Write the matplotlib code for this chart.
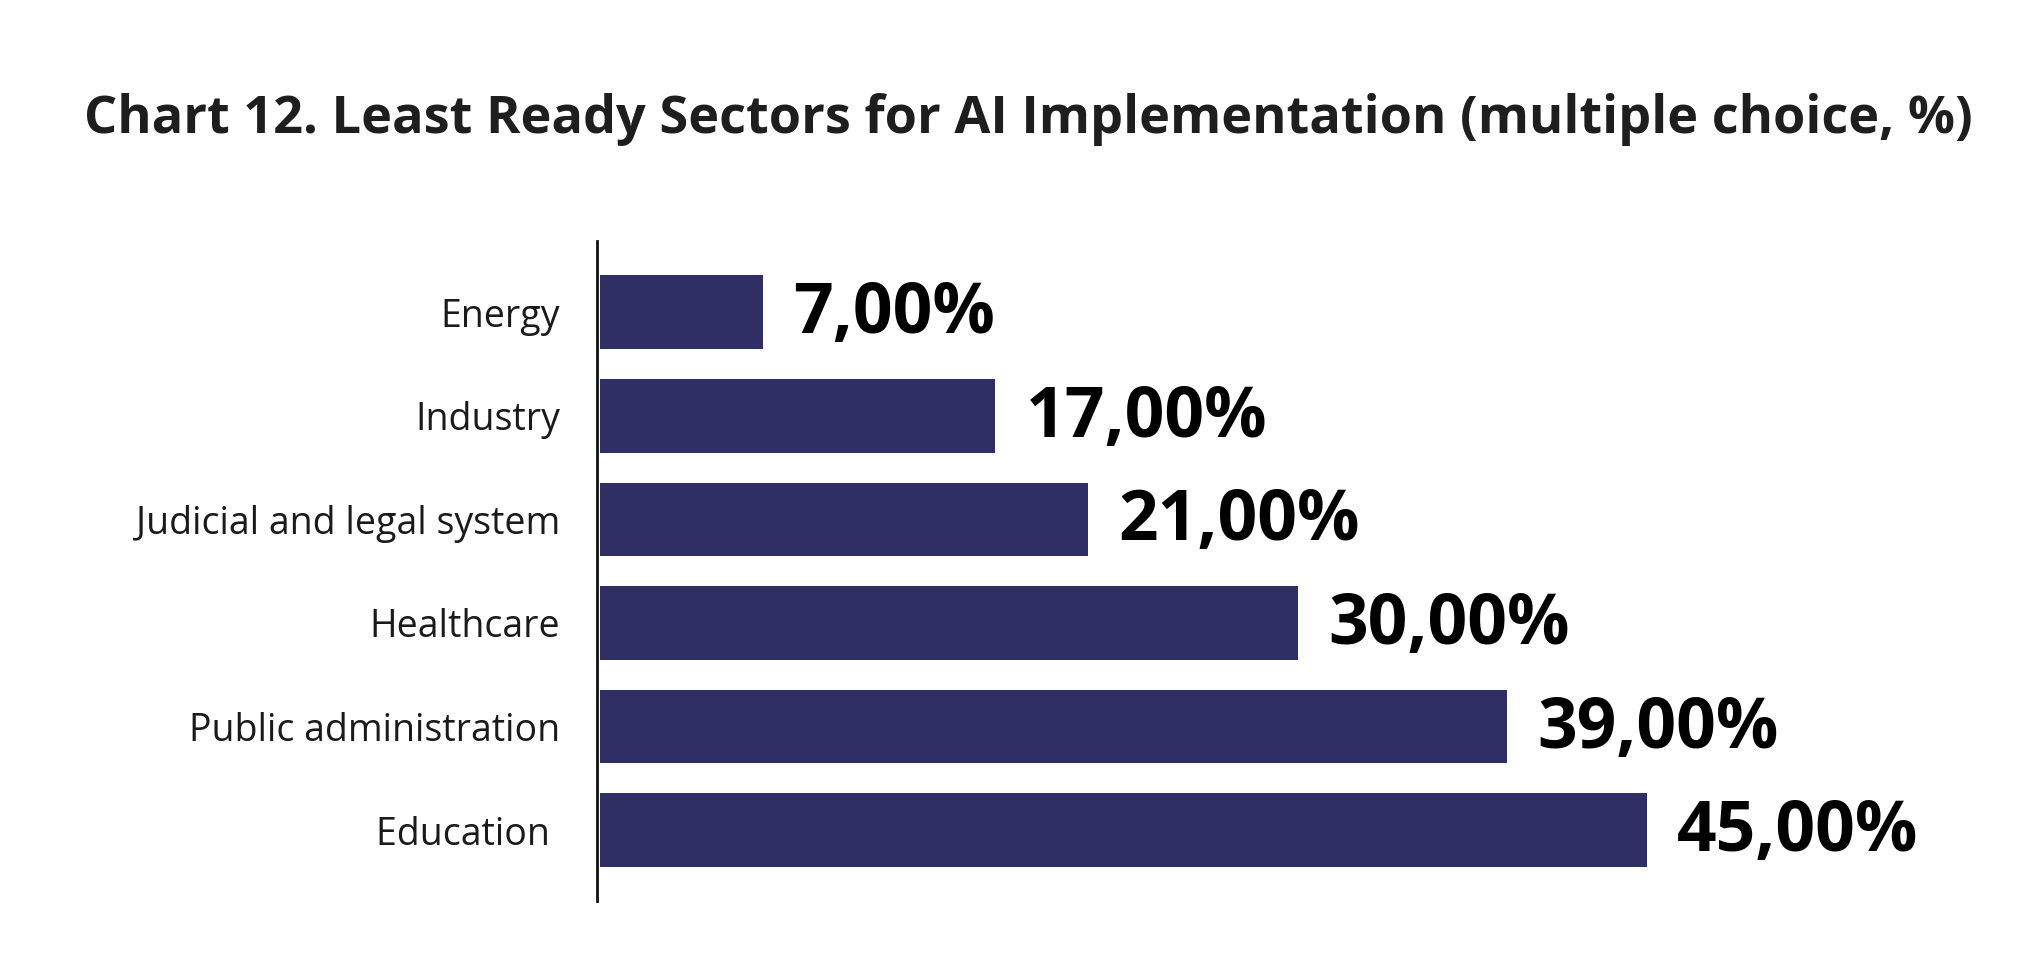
import numpy as np
import matplotlib.pyplot as plt

sectors = ["Energy", "Industry", "Judicial and legal system", "Healthcare",
           "Public administration", "Education "]
shares = [7, 17, 21, 30, 39, 45]
value_labels = ["7,00%", "17,00%", "21,00%", "30,00%", "39,00%", "45,00%"]

bar_color = "#2f2e65"
plt.rcParams['font.family'] = ['Open Sans', 'DejaVu Sans']

fig = plt.figure(figsize=(20.32, 9.73), dpi=100)
ax = fig.add_axes([0.294, 0.074, 0.656, 0.678])

y = np.arange(len(sectors))
ax.barh(y, shares, height=0.71, color=bar_color, left=0.1)
for yi, v, lab in zip(y, shares, value_labels):
    ax.text(v + 1.4, yi + 0.03, lab, va='center', ha='left', fontsize=50,
            fontweight='bold', color='black')

ax.set_yticks(y)
ax.set_yticklabels(sectors, fontsize=27, color='#1a1a1a')
ax.tick_params(axis='y', length=0, pad=27)
ax.set_xticks([])
ax.set_xlim(0, 57.3)
ax.set_ylim(5.685, -0.685)
for s in ['top', 'right', 'bottom']:
    ax.spines[s].set_visible(False)
ax.spines['left'].set_linewidth(2)
ax.spines['left'].set_color('#111111')

fig.text(0.506, 0.877, "Chart 12. Least Ready Sectors for AI Implementation (multiple choice, %)",
         ha='center', va='center', fontsize=37.6, fontweight='bold', color='#1e1e1e')

fig.savefig("out.png", dpi=100)
